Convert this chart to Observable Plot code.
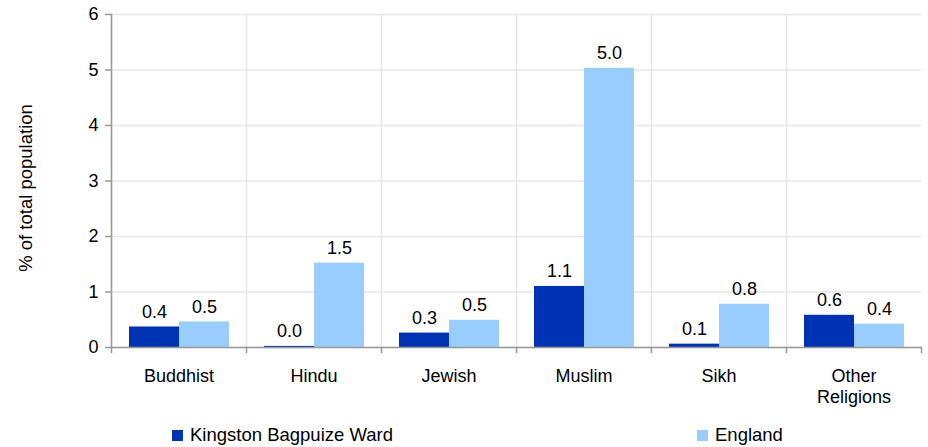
<!DOCTYPE html>
<html>
<head>
<meta charset="utf-8">
<script src="https://cdn.jsdelivr.net/npm/d3@7"></script>
<script src="https://cdn.jsdelivr.net/npm/@observablehq/plot@0.6"></script>
<style>
  body { margin: 0; background: #fff; font-family: "Liberation Sans", Arial, sans-serif; }
  #chart { position: relative; width: 928px; }
  .legend { position: relative; height: 32px; font-size: 18.5px; color: #000; }
  .legend span.item { position: absolute; top: 9px; display: flex; align-items: center; white-space: nowrap; }
  .legend .sw { display: inline-block; width: 11px; height: 11px; margin-right: 7px; }
</style>
</head>
<body>
<div id="chart"></div>
<script>
const categories = ["Buddhist", "Hindu", "Jewish", "Muslim", "Sikh", "Other Religions"];
const seriesNames = ["Kingston Bagpuize Ward", "England"];
const wardValues = [0.37, 0.02, 0.26, 1.10, 0.06, 0.58];
const englandValues = [0.46, 1.52, 0.49, 5.03, 0.78, 0.42];
const yTicks = [0, 1, 2, 3, 4, 5, 6];
const colors = ["#0033b4", "#99ccff"];

const data = [];
categories.forEach((c, i) => {
  data.push({category: c, series: seriesNames[0], value: wardValues[i]});
  data.push({category: c, series: seriesNames[1], value: englandValues[i]});
});

const fontFamily = "'Liberation Sans', Arial, sans-serif";

const plot = Plot.plot({
  width: 928,
  height: 415,
  marginTop: 14,
  marginBottom: 68,
  marginLeft: 110,
  marginRight: 6,
  style: {fontFamily, fontSize: "18px", color: "#000", background: "#fff"},
  fx: {domain: categories, padding: 0, label: null},
  x: {domain: seriesNames, paddingInner: 0, paddingOuter: 0.35, axis: null},
  y: {domain: [0, 6], label: null},
  color: {domain: seriesNames, range: colors},
  marks: [
    Plot.gridY(yTicks, {stroke: "#e6e6e6", strokeOpacity: 1, strokeWidth: 1.5}),
    Plot.frame({anchor: "left", stroke: "#e6e6e6", strokeWidth: 1.5}),
    Plot.barY(data, {fx: "category", x: "series", y: "value", fill: "series"}),
    Plot.text(data, {fx: "category", x: "series", y: "value", text: d => d.value.toFixed(1), dy: -15, lineAnchor: "middle", fill: "#000", fontSize: 18}),
    Plot.ruleY([0], {stroke: "#999", strokeWidth: 1.5}),
    Plot.frame({anchor: "left", stroke: "#999", strokeWidth: 1.5, facetAnchor: "left"}),
    Plot.frame({anchor: "left", stroke: "#999", strokeWidth: 1.5, insetTop: 333, insetBottom: -5}),
    Plot.frame({anchor: "right", stroke: "#999", strokeWidth: 1.5, insetTop: 333, insetBottom: -5, facetAnchor: "right"}),
    Plot.axisY(yTicks, {tickSize: 6, tickPadding: 7, stroke: "#999", strokeWidth: 1.5, fontSize: 18, label: null, tickFormat: d => String(d)}),
    Plot.axisFx({anchor: "bottom", tickSize: 0, tickPadding: 19, fontSize: 18, lineHeight: 1.18, tickFormat: d => d === "Other Religions" ? "Other\nReligions" : d, label: null})
  ]
});

const chart = document.getElementById("chart");
chart.appendChild(plot);

// y-axis label
const svg = d3.select(plot);
svg.append("text")
  .attr("transform", "translate(27,188) rotate(-90)")
  .attr("text-anchor", "middle")
  .attr("dominant-baseline", "middle")
  .attr("font-family", fontFamily)
  .attr("font-size", 18.5)
  .attr("fill", "#000")
  .text("% of total population");

const legend = document.createElement("div");
legend.className = "legend";
const lefts = [172, 697];
seriesNames.forEach((name, i) => {
  const item = document.createElement("span");
  item.className = "item";
  item.style.left = lefts[i] + "px";
  const sw = document.createElement("span");
  sw.className = "sw";
  sw.style.background = colors[i];
  item.appendChild(sw);
  item.appendChild(document.createTextNode(name));
  legend.appendChild(item);
});
chart.appendChild(legend);
</script>
</body>
</html>
